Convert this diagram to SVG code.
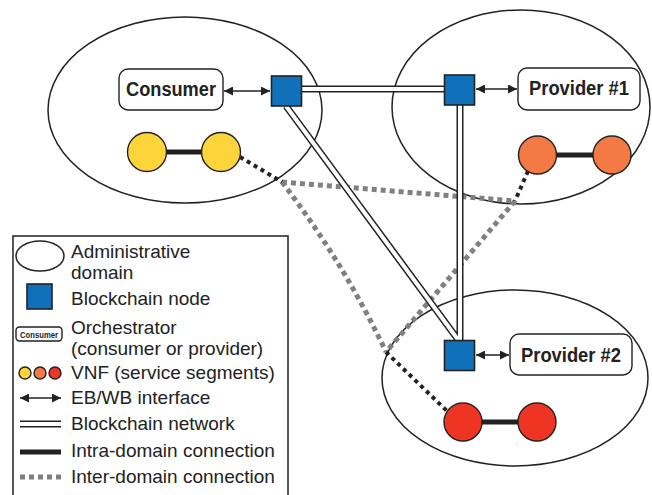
<svg xmlns="http://www.w3.org/2000/svg" width="652" height="495" viewBox="0 0 652 495">
  <defs>
    <style>
      .domain { fill: none; stroke: #222; stroke-width: 1.5; }
      .bnode { fill: #1170ba; stroke: #222; stroke-width: 1.6; }
      .orch { fill: #fff; stroke: #222; stroke-width: 1.4; }
      .orch-label { font-family: "Liberation Sans", Arial, sans-serif; font-weight: bold; font-size: 20px; fill: #222; text-anchor: middle; }
      .legend-text { font-family: "Liberation Sans", Arial, sans-serif; font-size: 19px; fill: #222; }
      .vnf { stroke: #222; stroke-width: 1.4; }
      .yellow { fill: #fdd43a; }
      .orange { fill: #f37a45; }
      .red { fill: #ee3524; }
      .intra { stroke: #222; stroke-width: 5; fill: none; }
      .chain-outer { stroke: #222; stroke-width: 7; fill: none; }
      .chain-inner { stroke: #fff; stroke-width: 4; fill: none; }
      .iface { stroke: #222; stroke-width: 1.5; fill: none; marker-start: url(#head); marker-end: url(#head); }
      .inter-in { stroke: #222; stroke-width: 4; stroke-dasharray: 4 4; fill: none; }
      .inter-out { stroke: #808080; stroke-width: 5; stroke-dasharray: 5 4; fill: none; }
    </style>
    <marker id="head" viewBox="0 0 10 10" refX="10" refY="5" markerWidth="6" markerHeight="6" markerUnits="strokeWidth" orient="auto-start-reverse">
      <path d="M0,0 L10,5 L0,10 Z" fill="#222"/>
    </marker>
  </defs>

  <rect width="652" height="495" fill="#fff"/>

  <!-- administrative domains -->
  <g id="domains">
    <ellipse id="domain-consumer" class="domain" cx="185" cy="110" rx="137" ry="93"/>
    <ellipse id="domain-provider1" class="domain" cx="521" cy="107" rx="129" ry="97"/>
    <ellipse id="domain-provider2" class="domain" cx="515" cy="378" rx="133" ry="88"/>
  </g>

  <!-- connectors -->
  <g id="connectors">
    <!-- inter-domain links, outside the domains -->
    <path class="inter-out" d="M282,182 L515,201"/>
    <path class="inter-out" d="M282,182 Q344,263 386,352"/>
    <path class="inter-out" d="M515,201 L386,352"/>
    <!-- inter-domain links, inside the domains -->
    <path class="inter-in" d="M240,157 L282,182"/>
    <path class="inter-in" d="M528,171 L515,201"/>
    <path class="inter-in" d="M386,352 L448,412"/>

    <!-- blockchain network -->
    <path class="chain-outer" d="M300,89 L446,89 M286,106 L459,341 M460,104 L460,341"/>
    <path class="chain-inner" d="M300,89 L446,89 M286,106 L459,341 M460,104 L460,341"/>

    <!-- intra-domain links -->
    <line class="intra" x1="166" y1="152" x2="202" y2="152"/>
    <line class="intra" x1="556" y1="155" x2="593" y2="155"/>
    <line class="intra" x1="482" y1="422" x2="518" y2="422"/>

    <!-- EB/WB interfaces -->
    <line class="iface" x1="224" y1="91" x2="270" y2="91"/>
    <line class="iface" x1="476" y1="89" x2="517" y2="89"/>
    <line class="iface" x1="476" y1="355" x2="509" y2="355"/>
  </g>

  <!-- blockchain nodes -->
  <g id="bc-consumer"><rect class="bnode" x="271.5" y="76" width="30" height="30"/></g>
  <g id="bc-provider1"><rect class="bnode" x="444.5" y="75" width="30" height="30"/></g>
  <g id="bc-provider2"><rect class="bnode" x="444.5" y="340.5" width="30" height="30"/></g>

  <!-- orchestrators -->
  <g id="orch-consumer">
    <rect class="orch" x="119" y="69" width="104" height="41" rx="9"/>
    <text class="orch-label" x="171" y="96" textLength="90" lengthAdjust="spacingAndGlyphs">Consumer</text>
  </g>
  <g id="orch-provider1">
    <rect class="orch" x="518" y="68" width="122" height="42" rx="9"/>
    <text class="orch-label" x="579" y="95" textLength="100" lengthAdjust="spacingAndGlyphs">Provider #1</text>
  </g>
  <g id="orch-provider2">
    <rect class="orch" x="510" y="334" width="122" height="41" rx="9"/>
    <text class="orch-label" x="571" y="362" textLength="100" lengthAdjust="spacingAndGlyphs">Provider #2</text>
  </g>

  <!-- VNFs -->
  <g id="vnf-consumer-1"><circle class="vnf yellow" cx="147" cy="152" r="19.5"/></g>
  <g id="vnf-consumer-2"><circle class="vnf yellow" cx="221" cy="152" r="19.5"/></g>
  <g id="vnf-provider1-1"><circle class="vnf orange" cx="537.5" cy="155" r="19"/></g>
  <g id="vnf-provider1-2"><circle class="vnf orange" cx="612" cy="155" r="19"/></g>
  <g id="vnf-provider2-1"><circle class="vnf red" cx="463" cy="422" r="19"/></g>
  <g id="vnf-provider2-2"><circle class="vnf red" cx="537" cy="422" r="19"/></g>

  <!-- legend -->
  <g id="legend">
    <rect x="13" y="236" width="275" height="270" fill="#fff" stroke="#222" stroke-width="1.5"/>

    <ellipse class="domain" cx="40" cy="256" rx="24" ry="15"/>
    <text class="legend-text" x="71" y="258">Administrative</text>
    <text class="legend-text" x="71" y="279">domain</text>

    <rect class="bnode" x="27" y="284" width="25" height="25"/>
    <text class="legend-text" x="71" y="305">Blockchain node</text>

    <rect class="orch" x="16" y="327" width="46" height="14" rx="3.5"/>
    <text x="39" y="337.5" font-family="'Liberation Sans', Arial, sans-serif" font-weight="bold" font-size="8.5" fill="#222" text-anchor="middle" textLength="38" lengthAdjust="spacingAndGlyphs">Consumer</text>
    <text class="legend-text" x="71" y="334">Orchestrator</text>
    <text class="legend-text" x="71" y="355">(consumer or provider)</text>

    <circle class="vnf yellow" cx="25" cy="373" r="6"/>
    <circle class="vnf orange" cx="40" cy="373" r="6"/>
    <circle class="vnf red" cx="55" cy="373" r="6"/>
    <text class="legend-text" x="71" y="379">VNF (service segments)</text>

    <line class="iface" x1="20" y1="398" x2="61" y2="398"/>
    <text class="legend-text" x="71" y="404">EB/WB interface</text>

    <line class="chain-outer" x1="20" y1="424" x2="61" y2="424"/>
    <line class="chain-inner" x1="19" y1="424" x2="62" y2="424"/>
    <text class="legend-text" x="71" y="430">Blockchain network</text>

    <line class="intra" x1="20" y1="452" x2="61" y2="452"/>
    <text class="legend-text" x="71" y="457">Intra-domain connection</text>

    <line class="inter-out" x1="20" y1="477" x2="61" y2="477"/>
    <text class="legend-text" x="71" y="483">Inter-domain connection</text>
  </g>
</svg>
